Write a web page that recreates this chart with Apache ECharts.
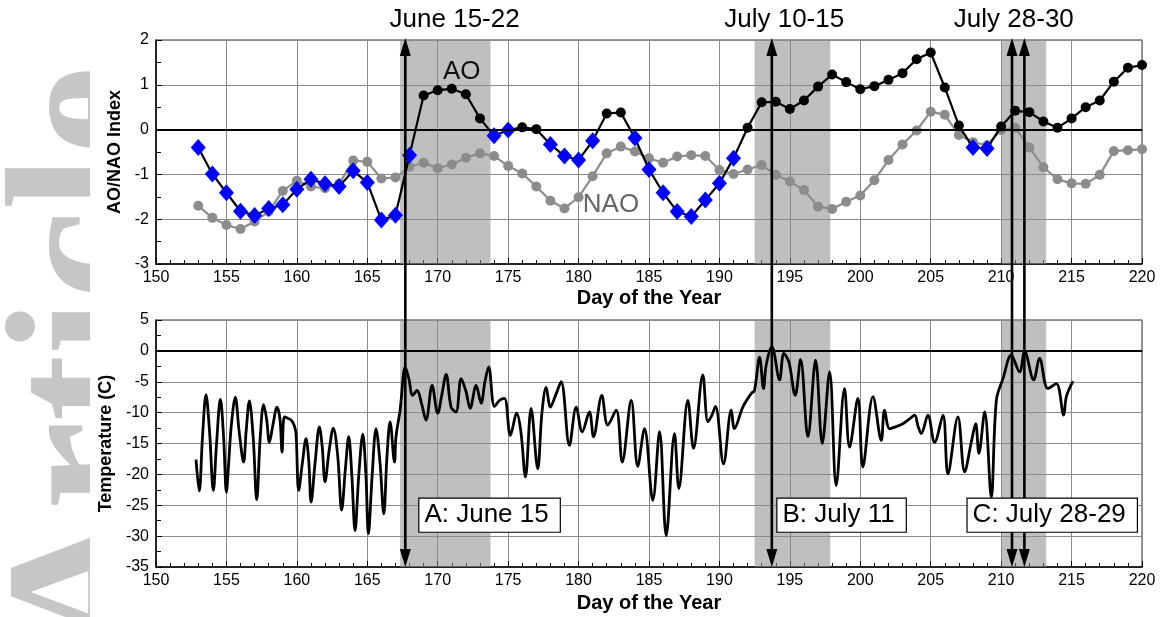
<!DOCTYPE html>
<html><head><meta charset="utf-8">
<script src="https://cdn.jsdelivr.net/npm/echarts@6/dist/echarts.min.js"></script>
<style>html,body{margin:0;padding:0;background:#fff}#c{width:1160px;height:617px}</style>
</head><body><div id="c"></div>
<script>
// ---- data ----
const days = [153,154,155,156,157,158,159,160,161,162,163,164,165,166,167,168,169,170,171,172,173,174,175,176,177,178,179,180,181,182,183,184,185,186,187,188,189,190,191,192,193,194,195,196,197,198,199,200,201,202,203,204,205,206,207,208,209,210,211,212,213,214,215,216,217,218,219,220];
const aoIndex = [-0.40,-0.99,-1.41,-1.82,-1.92,-1.76,-1.68,-1.33,-1.11,-1.21,-1.27,-0.92,-1.18,-2.02,-1.91,-0.57,0.76,0.88,0.91,0.79,0.25,-0.14,-0.01,0.05,0.01,-0.33,-0.59,-0.68,-0.25,0.36,0.38,-0.19,-0.89,-1.41,-1.83,-1.94,-1.57,-1.20,-0.64,0.04,0.61,0.62,0.46,0.65,0.96,1.23,1.06,0.90,0.97,1.11,1.26,1.57,1.72,0.94,0.09,-0.40,-0.42,0.07,0.42,0.39,0.18,0.04,0.25,0.50,0.65,1.07,1.38,1.44];
const naoIndex = [-1.70,-1.97,-2.13,-2.22,-2.05,-1.83,-1.37,-1.14,-1.27,-1.31,-1.21,-0.69,-0.72,-1.09,-1.07,-0.83,-0.74,-0.86,-0.78,-0.63,-0.53,-0.59,-0.81,-0.98,-1.27,-1.59,-1.76,-1.51,-1.04,-0.53,-0.38,-0.49,-0.64,-0.74,-0.60,-0.57,-0.59,-0.90,-0.99,-0.89,-0.79,-1.01,-1.16,-1.35,-1.72,-1.77,-1.61,-1.47,-1.13,-0.68,-0.33,-0.02,0.40,0.33,-0.12,-0.28,-0.35,-0.01,0.04,-0.40,-0.84,-1.11,-1.20,-1.21,-1.01,-0.48,-0.46,-0.44];
const tempDays = [152.84,153.07,153.3,153.55,153.8,154.07,154.3,154.57,154.8,155.0,155.15,155.35,155.63,155.9,156.22,156.4,156.63,156.9,157.15,157.4,157.64,157.85,158.05,158.3,158.59,158.8,158.95,159.11,159.35,159.59,159.8,159.94,160.13,160.4,160.65,160.85,161.01,161.3,161.6,161.8,162.0,162.3,162.59,162.9,163.18,163.45,163.68,163.9,164.13,164.4,164.68,164.9,165.08,165.35,165.62,165.9,166.17,166.4,166.62,166.93,167.04,167.33,167.7,167.95,168.22,168.53,168.85,169.17,169.6,170.0,170.3,170.6,170.95,171.3,171.66,172.0,172.3,172.73,173.08,173.35,173.62,174.03,174.4,174.74,175.16,175.61,175.9,176.23,176.63,177.1,177.4,177.7,178.0,178.4,178.76,179.35,179.83,180.26,180.77,181.06,181.65,182.07,182.67,183.1,183.74,184.2,184.68,185.27,185.75,186.22,186.81,187.12,187.76,188.16,188.82,189.18,189.45,189.72,190.29,190.84,191.07,191.66,192.26,192.49,192.85,193.13,193.32,193.72,194.27,194.57,194.93,195.38,195.76,196.28,196.83,197.3,197.82,198.29,198.88,199.24,199.83,200.18,200.9,201.49,201.72,202.08,202.5,203.02,203.5,203.86,204.1,204.33,204.8,205.28,205.87,206.22,206.93,207.41,207.88,208.19,208.42,208.83,209.3,209.66,210.13,210.72,211.31,211.67,212.31,212.73,213.32,213.92,214.44,214.63,215.1];
const tempVals = [-17.6,-22.7,-14.0,-7.1,-13.0,-22.6,-15.0,-7.8,-14.0,-22.9,-18.5,-12.0,-7.5,-13.0,-18.0,-13.0,-8.1,-14.0,-24.1,-14.0,-8.7,-11.0,-14.8,-12.0,-9.1,-11.0,-16.4,-10.7,-10.9,-11.2,-12.0,-13.4,-22.6,-18.0,-14.2,-18.0,-24.5,-18.0,-12.3,-15.5,-21.2,-16.0,-12.5,-17.0,-25.8,-19.0,-13.9,-20.0,-29.1,-20.0,-13.5,-20.0,-29.6,-20.0,-12.6,-18.0,-26.4,-17.0,-11.5,-18.0,-13.9,-9.6,-2.6,-4.5,-7.2,-6.4,-8.5,-11.2,-5.6,-10.1,-7.0,-3.8,-9.1,-9.9,-4.5,-6.5,-9.3,-5.6,-8.5,-5.0,-2.6,-9.0,-8.0,-7.7,-13.7,-10.1,-13.0,-20.4,-9.3,-19.1,-10.0,-5.9,-9.1,-7.0,-5.0,-15.3,-9.1,-13.1,-9.9,-13.9,-7.2,-12.0,-9.6,-18.0,-8.0,-18.7,-12.6,-24.2,-13.1,-29.9,-13.4,-22.3,-8.0,-15.8,-3.9,-11.5,-10.5,-9.0,-18.3,-9.6,-12.6,-9.1,-6.9,-6.4,-1.0,-6.1,-2.3,0.7,-4.7,-0.4,-1.8,-7.2,-1.4,-13.9,-1.5,-15.0,-3.4,-21.8,-6.1,-15.6,-7.7,-18.8,-7.4,-14.5,-9.6,-12.6,-12.3,-11.8,-11.0,-10.4,-12.2,-13.4,-10.4,-14.8,-10.4,-19.9,-10.7,-19.6,-14.8,-11.8,-16.6,-9.9,-23.7,-8.0,-4.5,-0.7,-3.4,-0.1,-4.7,-1.2,-6.1,-5.3,-10.4,-7.4,-4.9];
const bandStart = [167.33, 192.5, 210.0];
const bandEnd   = [173.75, 197.87, 213.2];
const arrowDays = [167.7, 193.72, 210.77, 211.65];
const periodLabels = ['June 15-22', 'July 10-15', 'July 28-30'];
const periodLabelDays = [171.2, 194.6, 210.9];
const eventLabels = ['A: June 15', 'B: July 11', 'C: July 28-29'];
const eventLabelDays = [168.7, 194.12, 207.62];
const eventLabelTemp = -26.6;
const xTicksMin = 150, xTicksMax = 220;

const FONT = '"Liberation Sans", Arial, sans-serif';
const chart = echarts.init(document.getElementById('c'), null, {renderer: 'canvas'});

function xAxisCfg(gi) {
  return {
    type: 'value', gridIndex: gi, min: xTicksMin, max: xTicksMax, interval: 5,
    axisLine: {onZero: false, lineStyle: {color: '#000', width: 1.5}},
    axisTick: {show: true, inside: true, length: 6, lineStyle: {color: '#000'}},
    minorTick: {show: true, splitNumber: 5, length: 4, lineStyle: {color: '#000'}},
    axisLabel: {fontSize: 16, color: '#000', fontFamily: FONT, margin: 6},
    splitLine: {show: true, lineStyle: {color: '#8a8a8a', width: 1}},
    name: 'Day of the Year', nameLocation: 'middle', nameGap: gi === 0 ? 24 : 26,
    nameTextStyle: {fontWeight: 'bold', fontSize: 20, fontFamily: FONT, color: '#000'}
  };
}
function yAxisCfg(gi, min, max, interval, name) {
  return {
    type: 'value', gridIndex: gi, min: min, max: max, interval: interval,
    axisLine: {onZero: false, lineStyle: {color: '#000', width: 1.5}},
    axisTick: {show: true, inside: true, length: 6, lineStyle: {color: '#000'}},
    minorTick: {show: true, splitNumber: 2, length: 5, lineStyle: {color: '#000'}},
    axisLabel: {fontSize: 16, color: '#000', fontFamily: FONT, margin: 7},
    splitLine: {show: true, lineStyle: {color: '#8a8a8a', width: 1}},
    name: name, nameLocation: 'middle', nameGap: 30,
    nameTextStyle: {fontWeight: 'bold', fontSize: 18, fontFamily: FONT, color: '#000'}
  };
}
const bandData = bandStart.map((s, i) => [{xAxis: s}, {xAxis: bandEnd[i]}]);
const markAreaCfg = {silent: true, itemStyle: {color: 'rgba(140,140,140,0.56)'}, data: bandData};
const zeroLine = {silent: true, symbol: ['none', 'none'], label: {show: false},
  lineStyle: {color: '#000', width: 2, type: 'solid'}, data: [{yAxis: 0}]};

const aoData = days.map((d, i) => {
  const v = aoIndex[i];
  return v < 0
    ? {value: [d, v], symbol: 'diamond', symbolSize: [15, 17], itemStyle: {color: '#0000ff'}}
    : {value: [d, v], symbol: 'circle', symbolSize: 10, itemStyle: {color: '#000'}};
});

chart.setOption({
  animation: false,
  backgroundColor: '#fff',
  grid: [
    {left: 156, right: 18, top: 40, height: 224, show: true, borderColor: '#333', borderWidth: 1, backgroundColor: 'transparent'},
    {left: 156, right: 18, top: 320, height: 247, show: true, borderColor: '#333', borderWidth: 1, backgroundColor: 'transparent'}
  ],
  xAxis: [xAxisCfg(0), xAxisCfg(1)],
  yAxis: [yAxisCfg(0, -3, 2, 1, 'AO/NAO Index'), yAxisCfg(1, -35, 5, 5, 'Temperature (C)')],
  series: [
    {type: 'line', name: 'NAO', xAxisIndex: 0, yAxisIndex: 0,
     data: days.map((d, i) => [d, naoIndex[i]]),
     symbol: 'circle', symbolSize: 10, itemStyle: {color: '#8c8c8c'},
     lineStyle: {color: '#8c8c8c', width: 2.2},
     markArea: markAreaCfg, markLine: zeroLine, z: 2},
    {type: 'line', name: 'AO', xAxisIndex: 0, yAxisIndex: 0, data: aoData,
     lineStyle: {color: '#000', width: 2.2}, itemStyle: {color: '#000'}, z: 3},
    {type: 'line', name: 'Temp', xAxisIndex: 1, yAxisIndex: 1,
     data: tempDays.map((d, i) => [d, tempVals[i]]),
     symbol: 'none', smooth: 0.35, lineStyle: {color: '#000', width: 2.8},
     markArea: markAreaCfg, markLine: zeroLine, z: 3}
  ]
});

// annotations placed through the chart's own scales
const P = (gi, x, y) => chart.convertToPixel({gridIndex: gi}, [x, y]);
const g = [];
// watermark at the left edge
g.push({type: 'text', x: 191, y: 66, rotation: Math.PI / 2, z: -10,
  style: {text: 'Article', fontFamily: 'Liberation Serif', fontSize: 200, fontWeight: 'bold', fill: '#c6c6c6', align: 'right', verticalAlign: 'bottom'}});
g.push({type: 'rect', shape: {x: 90, y: 0, width: 64, height: 617}, style: {fill: '#fff'}, z: -9});

arrowDays.forEach(d => {
  const top = P(0, d, 2), bot = P(1, d, -35);
  const x = top[0];
  g.push({type: 'line', z: 100, shape: {x1: x, y1: top[1] + 8, x2: x, y2: bot[1] - 8}, style: {stroke: '#000', lineWidth: 2.6}});
  g.push({type: 'polygon', z: 100, shape: {points: [[x, top[1] - 2], [x - 5.5, top[1] + 16], [x + 5.5, top[1] + 16]]}, style: {fill: '#000'}});
  g.push({type: 'polygon', z: 100, shape: {points: [[x, bot[1]], [x - 5.5, bot[1] - 18], [x + 5.5, bot[1] - 18]]}, style: {fill: '#000'}});
});
periodLabels.forEach((t, i) => {
  const p = P(0, periodLabelDays[i], 2);
  g.push({type: 'text', x: p[0], y: 20, z: 100,
    style: {text: t, font: '26px ' + FONT, fill: '#000', align: 'center', verticalAlign: 'middle'}});
});
eventLabels.forEach((t, i) => {
  const p = P(1, eventLabelDays[i], eventLabelTemp);
  g.push({type: 'text', x: p[0], y: p[1], z: 110,
    style: {text: t, font: '26px ' + FONT, fill: '#000', align: 'left', verticalAlign: 'middle',
      backgroundColor: '#fff', borderColor: '#000', borderWidth: 1.2, padding: [4, 11, 3, 5]}});
});
const aoP = P(0, 171.7, 1.29), naoP = P(0, 182.3, -1.69);
g.push({type: 'text', x: aoP[0], y: aoP[1], z: 90, style: {text: 'AO', font: '26px ' + FONT, fill: '#111', align: 'center', verticalAlign: 'middle'}});
g.push({type: 'text', x: naoP[0], y: naoP[1], z: 90, style: {text: 'NAO', font: '26px ' + FONT, fill: '#666', align: 'center', verticalAlign: 'middle'}});

chart.setOption({graphic: g});
</script></body></html>
